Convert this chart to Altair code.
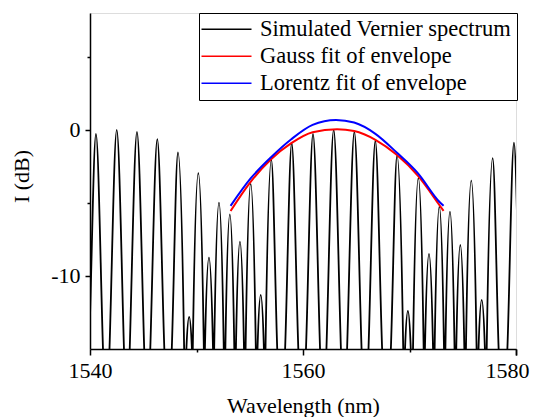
import altair as alt
import pandas as pd

# ---- Simulated Vernier spectrum: peaks ----
peak_center = [1540.56, 1542.51, 1544.41, 1546.32, 1548.26, 1549.31, 1550.17, 1551.17,
               1552.11, 1553.13, 1554.08, 1555.09, 1556.03, 1557.03, 1558.94, 1560.94,
               1562.88, 1564.82, 1566.79, 1568.83, 1569.85, 1570.83, 1571.83, 1572.80,
               1573.80, 1574.77, 1575.80, 1576.78, 1577.81, 1579.81]
peak_height = [-0.27, 0.00, -0.14, -0.64, -1.55, -12.8, -2.97, -8.74,
               -4.98, -5.78, -7.65, -3.70, -11.30, -2.05, -0.91, -0.27,
               0.00, -0.14, -0.75, -1.76, -12.4, -3.31, -8.49, -5.25,
               -5.59, -7.88, -3.47, -11.64, -1.94, -0.87]
# half width of each peak where it crosses the bottom of the plot (-15 dB)
peak_halfwidth = [0.66, 0.68, 0.68, 0.66, 0.58, 0.26, 0.52, 0.38,
                  0.45, 0.42, 0.38, 0.48, 0.30, 0.55, 0.62, 0.66,
                  0.68, 0.68, 0.64, 0.58, 0.27, 0.50, 0.38, 0.44,
                  0.43, 0.38, 0.50, 0.30, 0.56, 0.62]
foot_db = -15.0
valley_db = -22.0

# ---- envelope fits ----
gauss_x = [1553.2, 1555.1, 1557.0, 1558.9, 1560.9, 1563.2, 1564.8, 1566.8, 1568.8, 1570.8, 1572.8, 1573.2]
gauss_y = [-5.55, -3.54, -2.01, -0.91, -0.16, 0.05, -0.08, -0.68, -1.71, -3.15, -5.14, -5.55]
lorentz_x = [1553.2, 1555.1, 1557.0, 1558.9, 1560.9, 1563.1, 1564.8, 1566.8, 1568.8, 1570.8, 1572.8, 1573.2]
lorentz_y = [-5.2, -3.31, -1.87, -0.64, 0.34, 0.68, 0.5, -0.27, -1.55, -2.98, -4.92, -5.2]

names = ["Simulated Vernier spectrum", "Gauss fit of envelope", "Lorentz fit of envelope"]
colors = ["black", "#ff0000", "#0000ff"]

# build spectrum polyline: foot, top, foot for every peak, valleys below the axis between them
sx, sy = [], []
prev_right = None
for c, h, w in zip(peak_center, peak_height, peak_halfwidth):
    left = c - w
    if prev_right is None:
        sx.append(left - 0.5); sy.append(valley_db)
    else:
        sx.append((prev_right + left) / 2); sy.append(valley_db)
    sx += [left, c, c + w]
    sy += [foot_db, h, foot_db]
    prev_right = c + w
sx.append(prev_right + 0.5); sy.append(valley_db)

spec_df = pd.DataFrame({"x": sx, "y": sy, "series": names[0]})
gauss_df = pd.DataFrame({"x": gauss_x, "y": gauss_y, "series": names[1]})
lor_df = pd.DataFrame({"x": lorentz_x, "y": lorentz_y, "series": names[2]})

FONT = "Liberation Serif"
xscale = alt.Scale(domain=[1540, 1580], nice=False, zero=False)
yscale = alt.Scale(domain=[-15, 8], nice=False, zero=False)

x_major = alt.Axis(values=[1540, 1560, 1580], format="d", tickSize=6, tickWidth=1.5,
                   tickColor="black", domainColor="black", domainWidth=1.5, grid=False,
                   labelFont=FONT, labelFontSize=22, labelColor="black", labelPadding=5,
                   labelExpr="datum.value == 1580 ? '' : datum.label",
                   labelFlush=False, title="Wavelength (nm)", titleFont=FONT,
                   titleFontSize=22, titleFontWeight="normal", titleColor="black",
                   titleBaseline="alphabetic", titleY=63)
x_minor = alt.Axis(values=[1550, 1570], orient="bottom", tickSize=3, tickWidth=1.5,
                   tickColor="black", labels=False, domain=False, grid=False, title=None)
x_end = alt.Axis(values=[1580], orient="bottom", format="d", tickSize=6, tickWidth=1.5,
                 tickColor="black", domain=False, grid=False, title=None,
                 labelFont=FONT, labelFontSize=22, labelColor="black", labelPadding=5,
                 labelFlush=True, labelFlushOffset=13)
y_major = alt.Axis(values=[-10, 0], labelExpr="toString(datum.value)", tickSize=5,
                   tickWidth=1.5, tickColor="black", domainColor="black", domainWidth=1.5,
                   grid=False, labelFont=FONT, labelFontSize=22, labelColor="black",
                   labelPadding=5, title="I (dB)", titleFont=FONT, titleFontSize=22,
                   titleFontWeight="normal", titleColor="black", titleBaseline="alphabetic",
                   titleX=-62, titleY=163, titleAngle=270)
y_minor = alt.Axis(values=[-5, 5], orient="left", tickSize=3, tickWidth=1.5,
                   tickColor="black", labels=False, domain=False, grid=False, title=None)

color = alt.Color("series:N",
                  scale=alt.Scale(domain=names, range=colors),
                  legend=alt.Legend(orient="none", legendX=109, legendY=0, title=None,
                                    titlePadding=0,
                                    symbolType="M-25,0H25", symbolSize=4,
                                    symbolStrokeWidth=1.5, symbolOffset=11.25,
                                    labelFont=FONT, labelFontSize=22.5, labelColor="black",
                                    labelOffset=22.25, labelLimit=400, padding=5, rowPadding=4,
                                    strokeColor="black", fillColor="white"))

spec = alt.Chart(spec_df).mark_line(interpolate="monotone", clip=True, strokeWidth=1.8).encode(
    x=alt.X("x:Q", scale=xscale, axis=x_major),
    y=alt.Y("y:Q", scale=yscale, axis=y_major),
    color=color, detail="series:N")
gauss = alt.Chart(gauss_df).mark_line(interpolate="monotone", clip=True, strokeWidth=2).encode(
    x=alt.X("x:Q", scale=xscale, axis=x_minor),
    y=alt.Y("y:Q", scale=yscale, axis=y_minor),
    color=color)
lor = alt.Chart(lor_df).mark_line(interpolate="monotone", clip=True, strokeWidth=2).encode(
    x=alt.X("x:Q", scale=xscale, axis=x_end),
    y=alt.Y("y:Q", scale=yscale, axis=None),
    color=color)

chart = alt.layer(spec, gauss, lor).resolve_axis(x="independent", y="independent").properties(
    width=426, height=336,
    padding={"left": 82, "top": 5, "right": 14, "bottom": 68},
    autosize=alt.AutoSizeParams(type="none"),
).configure_view(stroke="black", strokeWidth=1.5).configure(background="white")

chart.save("out.html", embed_options={"renderer": "svg", "actions": False})
